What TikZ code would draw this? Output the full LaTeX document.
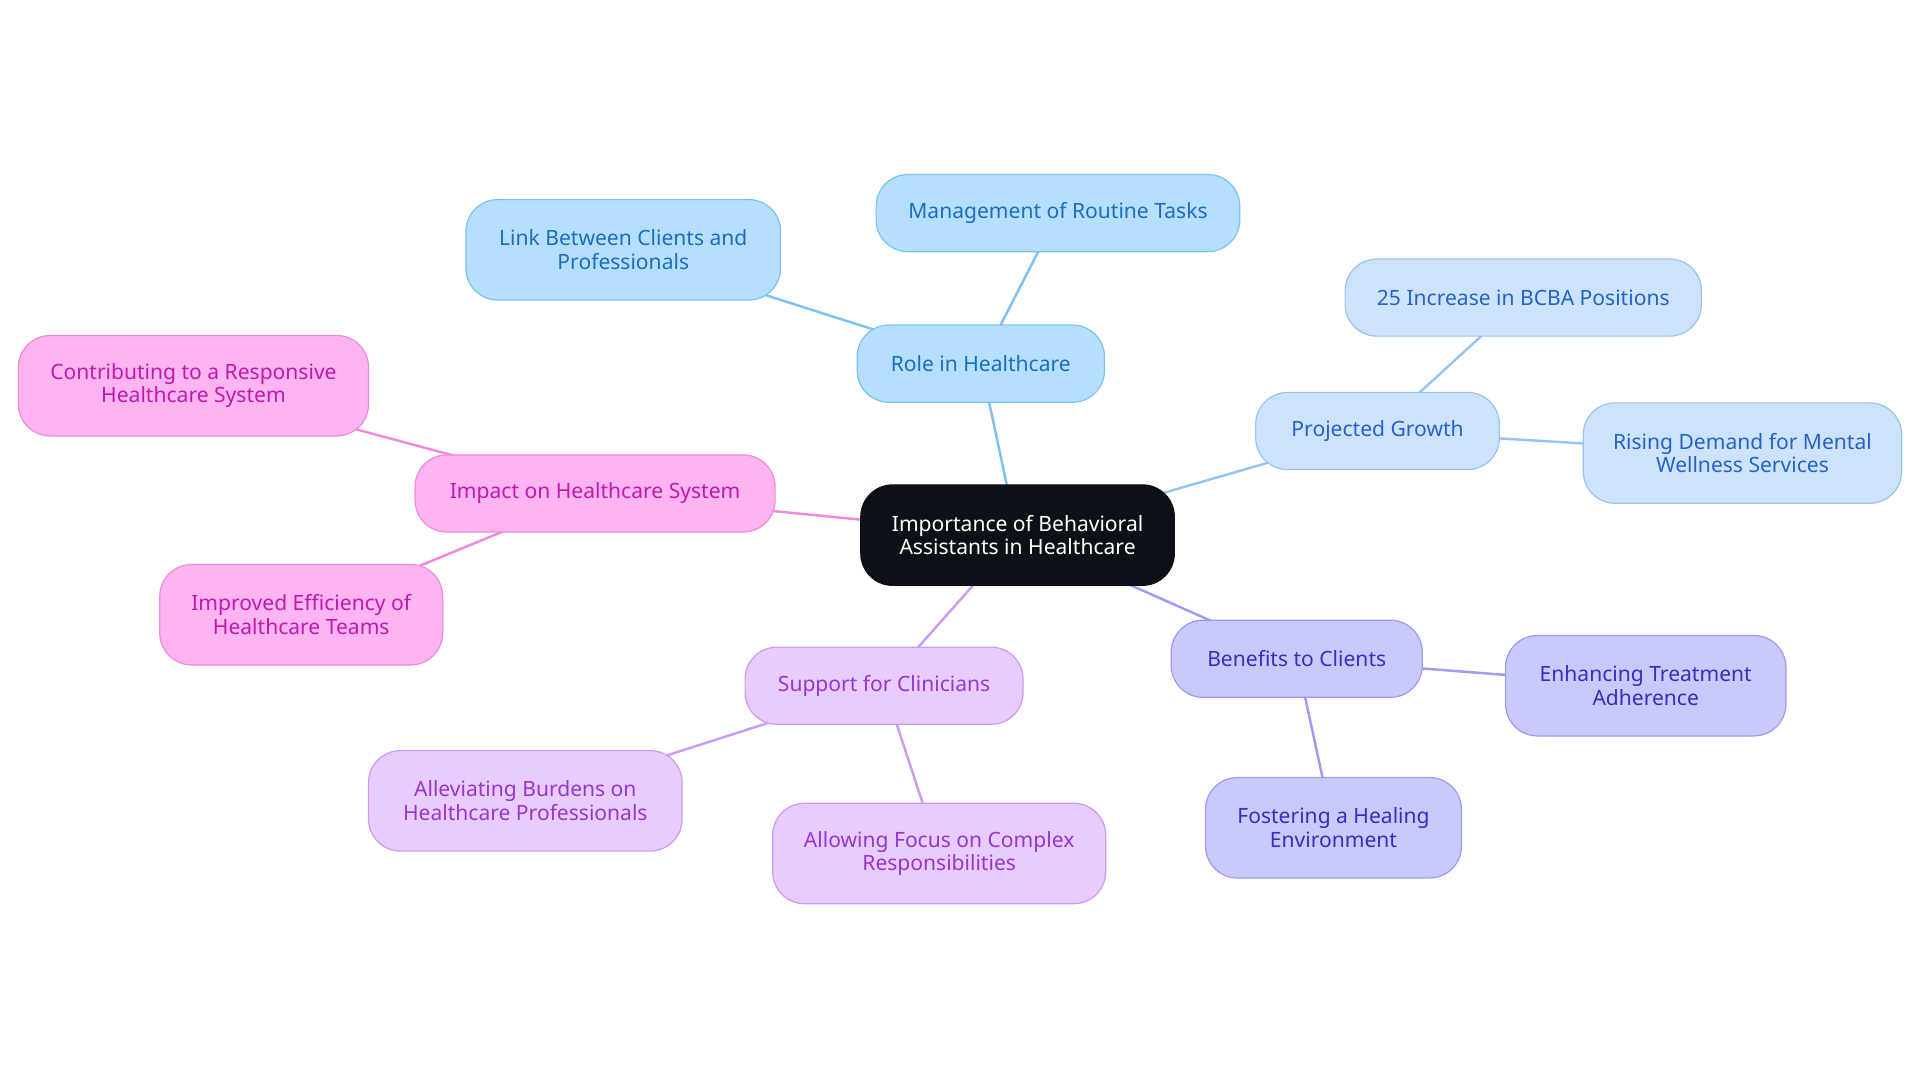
\documentclass[tikz,border=0pt]{standalone}
\usepackage{fontspec}
\setmainfont{Noto Sans}
\usetikzlibrary{backgrounds}
\definecolor{bF}{HTML}{B5DFFC}\definecolor{bS}{HTML}{7EC2F2}\definecolor{bT}{HTML}{1C6EBF}
\definecolor{gF}{HTML}{CDE3FB}\definecolor{gS}{HTML}{98C4F2}\definecolor{gT}{HTML}{2563C8}
\definecolor{vF}{HTML}{C9C9FC}\definecolor{vS}{HTML}{9C9CF2}\definecolor{vT}{HTML}{3A2DBF}
\definecolor{pF}{HTML}{E7CCFD}\definecolor{pS}{HTML}{CD9BF3}\definecolor{pT}{HTML}{9638CF}
\definecolor{mF}{HTML}{FDB4F1}\definecolor{mS}{HTML}{F08ADC}\definecolor{mT}{HTML}{C01AAE}
\definecolor{cF}{HTML}{0D1117}
\tikzset{
 box/.style={rounded corners=13pt,line width=0.5pt,align=center,inner sep=0pt,
   font=\fontsize{8.6}{9.6}\selectfont},
 bx/.style 2 args={box,minimum width=#1*0.5pt,minimum height=#2*0.5pt},
 blue/.style={fill=bF,draw=bS,text=bT},
 grn/.style={fill=gF,draw=gS,text=gT},
 vio/.style={fill=vF,draw=vS,text=vT},
 pur/.style={fill=pF,draw=pS,text=pT},
 mag/.style={fill=mF,draw=mS,text=mT},
 ln/.style={line width=1pt}
}
\begin{document}
\begin{tikzpicture}[x=0.5pt,y=-0.5pt]
\useasboundingbox (0,0) rectangle (1568,884);
\node[bx={256}{82},fill=cF,draw=cF,text=white] (c) at (831,437) {Importance of Behavioral\\Assistants in Healthcare};
\node[bx={202}{63},blue] (r) at (801,297) {Role in Healthcare};
\node[bx={297}{63},blue] (r1) at (864,174) {Management of Routine Tasks};
\node[bx={257}{82},blue] (r2) at (509,204) {Link Between Clients and\\Professionals};
\node[bx={199}{63},grn] (g) at (1125,352) {Projected Growth};
\node[bx={291}{63},grn] (g1) at (1244,243) {25 Increase in BCBA Positions};
\node[bx={260}{82},grn] (g2) at (1423,370) {Rising Demand for Mental\\Wellness Services};
\node[bx={205}{63},vio] (v) at (1059,538) {Benefits to Clients};
\node[bx={229}{82},vio] (v1) at (1344,560) {Enhancing Treatment\\Adherence};
\node[bx={209}{82},vio] (v2) at (1089,676) {Fostering a Healing\\Environment};
\node[bx={227}{63},pur] (p) at (722,560) {Support for Clinicians};
\node[bx={256}{82},pur] (p1) at (429,654) {Alleviating Burdens on\\Healthcare Professionals};
\node[bx={272}{82},pur] (p2) at (767,697) {Allowing Focus on Complex\\Responsibilities};
\node[bx={294}{63},mag] (m) at (486,403) {Impact on Healthcare System};
\node[bx={286}{82},mag] (m1) at (158,315) {Contributing to a Responsive\\Healthcare System};
\node[bx={231}{82},mag] (m2) at (246,502) {Improved Efficiency of\\Healthcare Teams};
\begin{scope}[on background layer]
\draw[ln,bS] (c.center)--(r.center) (r.center)--(r1.center) (r.center)--(r2.center);
\draw[ln,gS] (c.center)--(g.center) (g.center)--(g1.center) (g.center)--(g2.center);
\draw[ln,vS] (c.center)--(v.center) (v.center)--(v1.center) (v.center)--(v2.center);
\draw[ln,pS] (c.center)--(p.center) (p.center)--(p1.center) (p.center)--(p2.center);
\draw[ln,mS] (c.center)--(m.center) (m.center)--(m1.center) (m.center)--(m2.center);
\end{scope}
\end{tikzpicture}
\end{document}
